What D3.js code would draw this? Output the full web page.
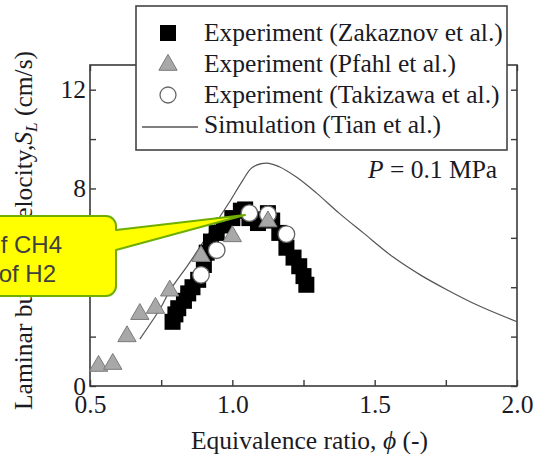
<!DOCTYPE html>
<html><head><meta charset="utf-8">
<script src="https://cdn.jsdelivr.net/npm/d3@7"></script>
<style>
html,body{margin:0;padding:0;background:#fff;}
svg{display:block;}
</style></head>
<body>
<svg id="chart" width="535" height="454"></svg>
<script>
// ---------- data ----------
const phiTicks = [0.5, 0.75, 1.0, 1.25, 1.5, 1.75, 2.0];
const phiTickLabels = ["0.5", "", "1.0", "", "1.5", "", "2.0"];
const slTicks = [0, 2, 4, 6, 8, 10, 12];
const slTickLabels = ["0", "", "4", "", "8", "", "12"];

const zakaznovPhi = [0.79, 0.80, 0.81, 0.83, 0.845, 0.86, 0.88, 0.90, 0.91, 0.925, 0.945, 0.97, 1.00, 1.03, 1.045, 1.06, 1.09, 1.11, 1.125, 1.14, 1.165, 1.19, 1.215, 1.235, 1.25, 1.26];
const zakaznovSL  = [2.6, 2.9, 3.15, 3.45, 3.75, 4.0, 4.3, 4.9, 5.4, 5.85, 6.2, 6.5, 6.8, 7.1, 7.15, 6.8, 6.6, 6.75, 7.0, 6.7, 6.2, 5.6, 5.2, 4.85, 4.45, 4.1];

const pfahlPhi = [0.53, 0.58, 0.63, 0.675, 0.73, 0.78, 0.89, 1.0, 1.125];
const pfahlSL  = [0.85, 0.93, 2.05, 2.95, 3.2, 3.9, 5.3, 6.1, 6.7];

const takizawaPhi = [0.89, 0.945, 1.06, 1.125, 1.19];
const takizawaSL  = [4.5, 5.5, 7.0, 6.95, 6.15];

const tianPhi = [0.675, 0.75, 0.78, 0.85, 0.93, 0.99, 1.035, 1.07, 1.12, 1.165, 1.225, 1.295, 1.375, 1.46, 1.565, 1.66, 1.755, 1.86, 2.0];
const tianSL  = [1.9, 3.2, 3.85, 5.0, 6.4, 7.45, 8.3, 8.85, 9.03, 8.88, 8.46, 7.82, 7.0, 6.2, 5.22, 4.5, 3.89, 3.28, 2.6];

const legendLabels = ["Experiment (Zakaznov et al.)", "Experiment (Pfahl et al.)", "Experiment (Takizawa et al.)", "Simulation (Tian et al.)"];
const calloutLines = ["of CH4", "of H2"];

// ---------- drawing ----------
const svg = d3.select("#chart");
const serif = "'Liberation Serif','Times New Roman',serif";
const x = d3.scaleLinear().domain([0.5, 2.0]).range([90, 517]);
const y = d3.scaleLinear().domain([0, 13]).range([386, 65]);
const axisCol = "#3a3a3a";
const textCol = "#1a1a24";

function styleAxis(g, showText) {
  g.select(".domain").remove();
  g.selectAll(".tick line").attr("stroke", axisCol).attr("stroke-width", 1.4);
  g.selectAll(".tick text").attr("font-family", serif).attr("font-size", 25.5).attr("fill", textCol);
  if (!showText) g.selectAll(".tick text").remove();
}

// axes
svg.append("g").attr("transform", "translate(0,386)")
  .call(d3.axisBottom(x).tickValues(phiTicks).tickSize(-6).tickPadding(9)
    .tickFormat((d, i) => phiTickLabels[i]))
  .call(g => styleAxis(g, true));
svg.append("g").attr("transform", "translate(0,65)")
  .call(d3.axisTop(x).tickValues(phiTicks).tickSize(-6).tickFormat(""))
  .call(g => styleAxis(g, false));
svg.append("g").attr("transform", "translate(90,0)")
  .call(d3.axisLeft(y).tickValues(slTicks).tickSize(-6).tickPadding(4)
    .tickFormat((d, i) => slTickLabels[i]))
  .call(g => styleAxis(g, true));
svg.append("g").attr("transform", "translate(517,0)")
  .call(d3.axisRight(y).tickValues(slTicks).tickSize(-6).tickFormat(""))
  .call(g => styleAxis(g, false));

// frame
svg.append("rect").attr("x", x(0.5)).attr("y", y(13))
  .attr("width", x(2.0) - x(0.5)).attr("height", y(0) - y(13))
  .attr("fill", "none").attr("stroke", axisCol).attr("stroke-width", 1.6);

// simulation curve
const tian = tianPhi.map((p, i) => [p, tianSL[i]]);
svg.append("path").datum(tian)
  .attr("d", d3.line().x(d => x(d[0])).y(d => y(d[1])).curve(d3.curveCatmullRom.alpha(0.5)))
  .attr("fill", "none").attr("stroke", "#555").attr("stroke-width", 1.2);

// squares
const sq = 16;
svg.append("g").selectAll("rect").data(zakaznovPhi.map((p, i) => [p, zakaznovSL[i]]))
  .join("rect")
  .attr("x", d => x(d[0]) - sq / 2).attr("y", d => y(d[1]) - sq / 2)
  .attr("width", sq).attr("height", sq).attr("fill", "#000");

// circles
svg.append("g").selectAll("circle").data(takizawaPhi.map((p, i) => [p, takizawaSL[i]]))
  .join("circle")
  .attr("cx", d => x(d[0])).attr("cy", d => y(d[1])).attr("r", 8.3)
  .attr("fill", "#fff").attr("stroke", "#666").attr("stroke-width", 1.3);

// triangles
const tri = d3.symbol().type(d3.symbolTriangle).size(145);
svg.append("g").selectAll("path").data(pfahlPhi.map((p, i) => [p, pfahlSL[i]]))
  .join("path")
  .attr("d", tri)
  .attr("transform", d => `translate(${x(d[0])},${y(d[1]) + 1})`)
  .attr("fill", "#a8a8a8").attr("stroke", "#7a7a7a").attr("stroke-width", 1);

// P = 0.1 MPa
const pt = svg.append("text").attr("x", 368).attr("y", 178)
  .attr("font-family", serif).attr("font-size", 25.5).attr("fill", textCol);
pt.append("tspan").attr("font-style", "italic").text("P");
pt.append("tspan").text(" = 0.1 MPa");

// legend
const lg = svg.append("g");
lg.append("rect").attr("x", 136).attr("y", 6).attr("width", 371).attr("height", 144)
  .attr("fill", "#fff").attr("stroke", "#444").attr("stroke-width", 1.6);
const rowsY = [33, 64, 95, 127];
const baseY = [41, 72, 103, 133];
lg.append("rect").attr("x", 168 - 8).attr("y", rowsY[0] - 8).attr("width", 16).attr("height", 16).attr("fill", "#000");
lg.append("path").attr("d", tri).attr("transform", `translate(168,${rowsY[1] + 1})`)
  .attr("fill", "#a8a8a8").attr("stroke", "#7a7a7a");
lg.append("circle").attr("cx", 168).attr("cy", rowsY[2]).attr("r", 8)
  .attr("fill", "#fff").attr("stroke", "#666").attr("stroke-width", 1.3);
lg.append("line").attr("x1", 142).attr("x2", 198).attr("y1", rowsY[3]).attr("y2", rowsY[3])
  .attr("stroke", "#555").attr("stroke-width", 1.3);
lg.selectAll("text.leg").data(legendLabels).join("text").attr("class", "leg")
  .attr("x", 204).attr("y", (d, i) => baseY[i])
  .attr("font-family", serif).attr("font-size", 25.5).attr("fill", textCol)
  .text(d => d);

// axis titles
const xt = svg.append("text").attr("x", 191).attr("y", 449)
  .attr("font-family", serif).attr("font-size", 25.5).attr("fill", textCol);
xt.append("tspan").text("Equivalence ratio, ");
xt.append("tspan").attr("font-style", "italic").text("\u03D5");
xt.append("tspan").text(" (-)");

const yt = svg.append("text").attr("transform", "translate(32,410) rotate(-90)")
  .attr("font-family", serif).attr("font-size", 25.5).attr("fill", textCol);
yt.append("tspan").text("Laminar burning velocity,");
yt.append("tspan").attr("font-style", "italic").text("S");
yt.append("tspan").attr("font-style", "italic").attr("font-size", 17).attr("dy", 5).text("L");
yt.append("tspan").attr("dy", -5).text(" (cm/s)");

// callout
const cTop = 216, cBot = 296, cLeft = -60, cRight = 116, r = 10;
const tipX = 245, tipY = 215, bA = 230, bB = 250;
const cp = d3.path();
cp.moveTo(cLeft, cTop);
cp.lineTo(cRight - r, cTop);
cp.arcTo(cRight, cTop, cRight, cTop + r, r);
cp.lineTo(cRight, bA);
cp.lineTo(tipX, tipY);
cp.lineTo(cRight, bB);
cp.lineTo(cRight, cBot - r);
cp.arcTo(cRight, cBot, cRight - r, cBot, r);
cp.lineTo(cLeft, cBot);
cp.closePath();
svg.append("path").attr("d", cp.toString())
  .attr("fill", "#ffff00").attr("stroke", "#6fae00").attr("stroke-width", 2).attr("stroke-linejoin", "round");
svg.selectAll("text.call").data(calloutLines).join("text").attr("class", "call")
  .attr("x", (d, i) => i === 0 ? 62 : 56).attr("y", (d, i) => 253 + i * 29)
  .attr("text-anchor", "end")
  .attr("font-family", "'Liberation Sans',Arial,sans-serif").attr("font-size", 24).attr("fill", "#404040")
  .text(d => d);
</script>
</body></html>
